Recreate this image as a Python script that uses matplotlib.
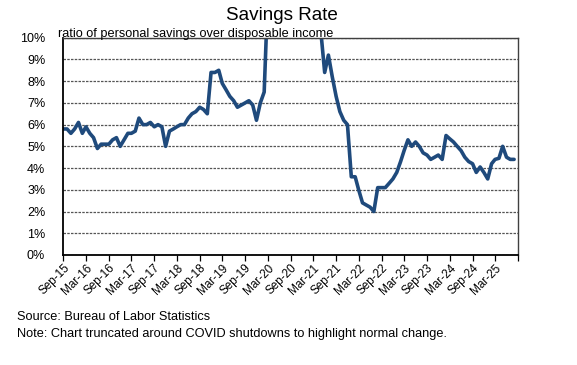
import numpy as np
import pandas as pd
import matplotlib
matplotlib.use("Agg")
import matplotlib.pyplot as plt
import matplotlib.dates as mdates

plt.rcParams['font.family'] = ['Liberation Sans', 'DejaVu Sans']

# monthly personal saving rate (%), Sep-2015 .. Aug-2025
months = pd.date_range('2015-09-01', periods=120, freq='MS')
saving_rate = [
    5.8, 5.8, 5.6, 5.8, 6.1, 5.6, 5.9, 5.6, 5.4, 4.9,
    5.1, 5.1, 5.1, 5.3, 5.4, 5.0, 5.3, 5.6, 5.6, 5.7,
    6.3, 6.0, 6.0, 6.1, 5.9, 6.0, 5.9, 5.0, 5.7, 5.8,
    5.9, 6.0, 6.0, 6.3, 6.5, 6.6, 6.8, 6.7, 6.5, 8.4,
    8.4, 8.5, 7.9, 7.6, 7.3, 7.1, 6.8, 6.9, 7.0, 7.1,
    6.9, 6.2, 7.0, 7.5, 12.0, 32.0, 24.9, 19.2, 18.9, 14.8,
    14.3, 13.5, 12.8, 13.4, 19.9, 13.6, 26.6, 12.7, 10.3, 8.4,
    9.2, 8.2, 7.3, 6.6, 6.2, 6.0, 3.6, 3.6, 3.0, 2.4,
    2.3, 2.2, 2.0, 3.1, 3.1, 3.1, 3.3, 3.5, 3.8, 4.3,
    4.8, 5.3, 5.0, 5.2, 5.0, 4.7, 4.6, 4.4, 4.5, 4.6,
    4.4, 5.5, 5.35, 5.2, 5.0, 4.8, 4.5, 4.3, 4.2, 3.8,
    4.05, 3.8, 3.5, 4.2, 4.4, 4.45, 5.0, 4.5, 4.4, 4.4,
]
yticks = np.arange(0, 11, 1)

fig = plt.figure(figsize=(5.77, 3.65), dpi=100)
ax = fig.add_axes([0.1097, 0.3014, 0.788, 0.5953])

ax.plot(months, np.array(saving_rate) / 100, color='#1F4A7C', lw=2.6,
        solid_joinstyle='round', solid_capstyle='round')

ax.set_ylim(0, 0.10)
ax.set_xlim(pd.Timestamp('2015-09-01'), pd.Timestamp('2025-09-01'))
ax.set_yticks(yticks / 100)
ax.set_yticklabels([f'{t}%' for t in yticks], fontsize=9)
ax.tick_params(axis='y', length=0, pad=13)

ax.xaxis.set_major_locator(mdates.MonthLocator(bymonth=[3, 9]))
ax.xaxis.set_major_formatter(mdates.DateFormatter('%b-%y'))
ax.tick_params(axis='x', direction='out', length=4, width=0.9, pad=1, labelsize=8.5)
for lbl in ax.get_xticklabels():
    lbl.set_rotation(45)
    lbl.set_ha('right')
    lbl.set_rotation_mode('anchor')
labels = ax.get_xticklabels()
labels[-1].set_visible(False)

ax.grid(axis='y', color='#555555', ls=(0, (2, 1)), lw=0.9)
ax.set_axisbelow(True)
for side in ['left', 'bottom']:
    ax.spines[side].set_color('black')
    ax.spines[side].set_linewidth(1.3)
for side in ['top', 'right']:
    ax.spines[side].set_color('#404040')
    ax.spines[side].set_linewidth(1.0)

fig.text(0.488, 0.958, 'Savings Rate', ha='center', va='center', fontsize=13.6)
fig.text(0.1, 0.908, 'ratio of personal savings over disposable income',
         ha='left', va='center', fontsize=9.2)
fig.text(0.029, 1 - 316.7 / 365, 'Source: Bureau of Labor Statistics',
         ha='left', va='center', fontsize=9.2)
fig.text(0.029, 1 - 333.5 / 365,
         'Note: Chart truncated around COVID shutdowns to highlight normal change.',
         ha='left', va='center', fontsize=9.2)

fig.savefig('out.png', dpi=100)
